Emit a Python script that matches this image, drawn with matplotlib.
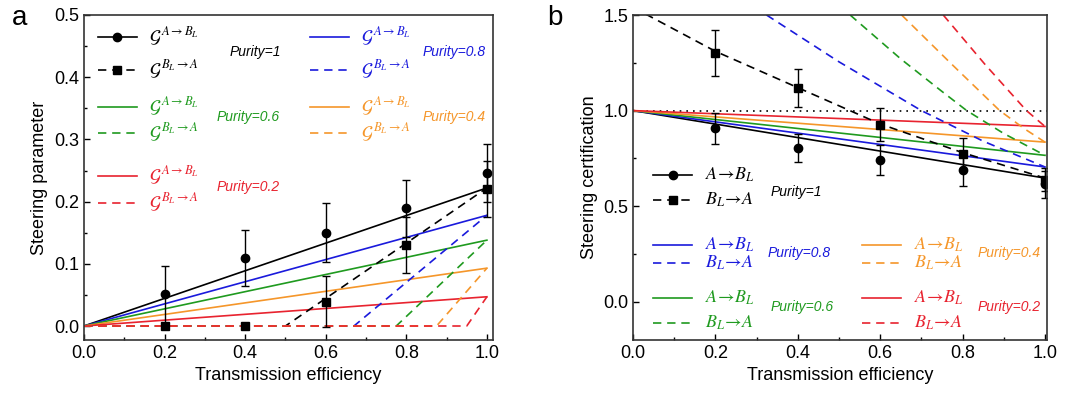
import matplotlib
matplotlib.use("Agg")
import matplotlib.pyplot as plt
from matplotlib.ticker import MultipleLocator

plt.rcParams['font.family'] = ['Liberation Sans', 'DejaVu Sans']
plt.rcParams['mathtext.fontset'] = 'stix'

purities = [1, 0.8, 0.6, 0.4, 0.2]
colors = ['black', '#1a1adc', '#1f9a1f', '#f5962a', '#e8232f']

# ---- panel a: steering parameter ----
eta_line = [0.0, 1.0]
g_ab_end = [0.222, 0.178, 0.138, 0.093, 0.047]      # A->B_L at eta = 1
g_ba_start = [0.50, 0.67, 0.775, 0.875, 0.95]       # B_L->A becomes nonzero here

eta_data = [0.2, 0.4, 0.6, 0.8, 1.0]
g_ab_data = [0.051, 0.110, 0.150, 0.189, 0.246]
g_ab_err = [0.046, 0.045, 0.047, 0.046, 0.047]
g_ba_data = [0.0, 0.0, 0.039, 0.130, 0.221]
g_ba_err = [0.0, 0.0, 0.041, 0.045, 0.045]

# ---- panel b: steering certification ----
c_ab_end = [0.647, 0.705, 0.766, 0.835, 0.917]
c_ba_eta = [
    [0.0, 0.2, 0.4, 0.6, 0.8, 1.0],
    [0.324, 0.5, 0.7, 0.85, 1.0],
    [0.527, 0.65, 0.75, 0.81, 0.9, 1.0],
    [0.652, 0.77, 0.89, 0.95, 1.0],
    [0.753, 0.855, 0.955, 1.0],
]
c_ba_val = [
    [1.54, 1.31, 1.12, 0.93, 0.78, 0.647],
    [1.5, 1.255, 1.0, 0.84, 0.705],
    [1.5, 1.27, 1.1, 1.0, 0.88, 0.766],
    [1.5, 1.25, 1.0, 0.905, 0.835],
    [1.5, 1.24, 1.0, 0.917],
]

c_ab_data = [0.907, 0.804, 0.743, 0.688, 0.615]
c_ab_err = [0.08, 0.075, 0.078, 0.08, 0.07]
c_ba_data = [1.303, 1.118, 0.926, 0.774, 0.639]
c_ba_err = [0.12, 0.097, 0.087, 0.082, 0.06]

DASH = (0, (5, 3.5))


def style_axes(ax):
    ax.tick_params(which='both', direction='in', labelsize=13, width=1)
    ax.tick_params(which='major', length=4)
    ax.tick_params(which='minor', length=2.5)
    for s in ax.spines.values():
        s.set_linewidth(1.2)
        s.set_color('#333333')
    ax.xaxis.set_major_locator(MultipleLocator(0.2))
    ax.xaxis.set_minor_locator(MultipleLocator(0.1))
    ax.set_xlabel('Transmission efficiency', fontsize=13)


def legend_group(ax, x, y0, y1, color, labels, purity, px, py, markers=False):
    tr = ax.transAxes
    ax.plot([x, x + 0.095], [y0, y0], color=color, lw=1.2, transform=tr)
    ax.plot([x, x + 0.095], [y1, y1], color=color, lw=1.2, ls=DASH, transform=tr)
    if markers:
        ax.plot([x + 0.0475], [y0], 'o', color=color, ms=6, transform=tr)
        ax.plot([x + 0.0475], [y1], 's', color=color, ms=6, transform=tr)
    ax.text(x + 0.125, y0, labels[0], color=color, fontsize=13, va='center', transform=tr)
    ax.text(x + 0.125, y1, labels[1], color=color, fontsize=13, va='center', transform=tr)
    ax.text(px, py, purity, color=color, fontsize=10, style='italic', va='center', transform=tr)


fig = plt.figure(figsize=(10.67, 4.0), dpi=100)
ax1 = fig.add_axes([0.0787, 0.15, 0.3833, 0.8125])
ax2 = fig.add_axes([0.5933, 0.15, 0.388, 0.8125])

# panel a
for i in range(len(purities)):
    ax1.plot(eta_line, [0.0, g_ab_end[i]], color=colors[i], lw=1.2)
for i in range(len(purities)):
    ax1.plot([0.0, g_ba_start[i], 1.0], [0.0, 0.0, g_ab_end[i]], color=colors[i], lw=1.2, ls=DASH)
ax1.errorbar(eta_data, g_ab_data, yerr=g_ab_err, fmt='o', color='black', ms=6,
             elinewidth=1, capsize=3)
ax1.errorbar(eta_data, g_ba_data, yerr=g_ba_err, fmt='s', color='black', ms=5.5,
             elinewidth=1, capsize=3)
ax1.set_xlim(0, 1.015)
ax1.set_ylim(-0.0225, 0.5)
ax1.yaxis.set_major_locator(MultipleLocator(0.1))
ax1.yaxis.set_minor_locator(MultipleLocator(0.05))
style_axes(ax1)
ax1.set_ylabel('Steering parameter', fontsize=13)

gab = r'$\mathcal{G}^{\,A\rightarrow B_L}$'
gba = r'$\mathcal{G}^{\,B_L\rightarrow A}$'
legend_group(ax1, 0.034, 0.932, 0.831, colors[0], [gab, gba], 'Purity=1', 0.357, 0.886, markers=True)
legend_group(ax1, 0.553, 0.932, 0.831, colors[1], [gab, gba], 'Purity=0.8', 0.829, 0.886)
legend_group(ax1, 0.034, 0.717, 0.637, colors[2], [gab, gba], 'Purity=0.6', 0.325, 0.686)
legend_group(ax1, 0.553, 0.717, 0.637, colors[3], [gab, gba], 'Purity=0.4', 0.829, 0.686)
legend_group(ax1, 0.034, 0.505, 0.422, colors[4], [gab, gba], 'Purity=0.2', 0.325, 0.471)

# panel b
ax2.axhline(1.0, color='black', lw=1.2, ls=(0, (1, 3)))
for i in range(len(purities)):
    ax2.plot(eta_line, [1.0, c_ab_end[i]], color=colors[i], lw=1.2)
for i in range(len(purities)):
    ax2.plot(c_ba_eta[i], c_ba_val[i], color=colors[i], lw=1.2, ls=DASH)
ax2.errorbar(eta_data, c_ab_data, yerr=c_ab_err, fmt='o', color='black', ms=6,
             elinewidth=1, capsize=3)
ax2.errorbar(eta_data, c_ba_data, yerr=c_ba_err, fmt='s', color='black', ms=5.5,
             elinewidth=1, capsize=3)
ax2.set_xlim(0, 1.005)
ax2.set_ylim(-0.2, 1.5)
ax2.yaxis.set_major_locator(MultipleLocator(0.5))
ax2.yaxis.set_minor_locator(MultipleLocator(0.25))
style_axes(ax2)
ax2.set_ylabel('Steering certification', fontsize=13)

cab = r'$A\!\rightarrow\! B_L$'
cba = r'$B_L\!\rightarrow\! A$'
legend_group(ax2, 0.048, 0.508, 0.431, colors[0], [cab, cba], 'Purity=1', 0.331, 0.455, markers=True)
legend_group(ax2, 0.048, 0.292, 0.237, colors[1], [cab, cba], 'Purity=0.8', 0.326, 0.268)
legend_group(ax2, 0.553, 0.292, 0.237, colors[3], [cab, cba], 'Purity=0.4', 0.831, 0.268)
legend_group(ax2, 0.048, 0.129, 0.052, colors[2], [cab, cba], 'Purity=0.6', 0.331, 0.100)
legend_group(ax2, 0.553, 0.129, 0.052, colors[4], [cab, cba], 'Purity=0.2', 0.831, 0.100)

fig.text(0.011, 0.955, 'a', fontsize=20, va='center')
fig.text(0.513, 0.955, 'b', fontsize=20, va='center')

fig.savefig('out.png', dpi=100)
